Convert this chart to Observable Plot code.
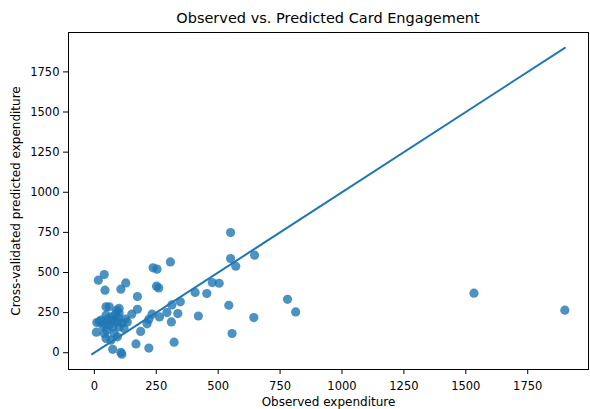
<!DOCTYPE html>
<html>
<head>
<meta charset="utf-8">
<script src="https://cdn.jsdelivr.net/npm/d3@7"></script>
<script src="https://cdn.jsdelivr.net/npm/@observablehq/plot@0.6"></script>
<style>
  body { margin: 0; background: #fff; }
  #wrap { position: relative; width: 590px; height: 409px; font-family: "DejaVu Sans", sans-serif; }
  #title { position: absolute; left: 68px; width: 520px; top: 10px; text-align: center; font-size: 14.5px; color: #000; }
</style>
</head>
<body>
<div id="wrap">
  <div id="title">Observed vs. Predicted Card Engagement</div>
</div>
<script>
const title = "Observed vs. Predicted Card Engagement";
const xLabel = "Observed expenditure";
const yLabel = "Cross-validated predicted expenditure";
const tickValues = [0, 250, 500, 750, 1000, 1250, 1500, 1750];

const observed = [
  16, 40, 43, 107, 127, 174, 237, 253, 307, 251, 260, 550, 550, 571, 476, 504, 407, 454, 647, 543,
  420, 644, 556, 780, 813, 1533, 1900, 347, 313, 337, 293, 311, 263, 233, 220, 213, 322, 220, 174, 151,
  187, 168, 74, 107, 111, 10, 8, 47, 60, 100, 100, 27, 47, 67, 80, 40, 60, 93, 113, 133,
  120, 100, 40, 47, 67, 80, 93, 55, 70, 85, 35, 50, 90, 20, 125, 75, 95
];
const predicted = [
  452, 487, 390, 396, 435, 350, 529, 521, 566, 415, 404, 749, 587, 539, 437, 433, 376, 369, 608, 296,
  229, 219, 120, 333, 254, 371, 265, 317, 298, 244, 250, 192, 223, 240, 208, 180, 66, 29, 271, 240,
  133, 55, 21, 2, -9, 188, 128, 286, 286, 276, 248, 203, 234, 223, 203, 182, 171, 192, 186, 192,
  151, 161, 120, 89, 78, 120, 99, 210, 195, 240, 165, 140, 265, 195, 210, 160, 220
];

const points = observed.map((o, i) => ({obs: o, pred: predicted[i]}));
const lo = Math.min(d3.min(observed), d3.min(predicted));
const hi = Math.max(d3.max(observed), d3.max(predicted));
const diag = [{v: lo}, {v: hi}];
const pad = (hi - lo) * 0.05;
const domain = [lo - pad, hi + pad];
const blue = "#1f77b4";
const fmt = d3.format("d");

const chart = Plot.plot({
  width: 590,
  height: 409,
  marginLeft: 68,
  marginRight: 2,
  marginTop: 32,
  marginBottom: 40,
  style: {fontFamily: "DejaVu Sans, sans-serif", fontSize: "11.5px", color: "#000", background: "#fff"},
  x: {domain, ticks: tickValues, label: null},
  y: {domain, ticks: tickValues, label: null},
  marks: [
    Plot.axisX({ticks: tickValues, tickFormat: fmt, tickSize: 5, tickPadding: 7, fontSize: 11.5, label: null}),
    Plot.axisY({ticks: tickValues, tickFormat: fmt, tickSize: 5, tickPadding: 4, fontSize: 11.5, label: null}),
    Plot.lineY(diag, {x: "v", y: "v", stroke: blue, strokeWidth: 2}),
    Plot.dot(points, {x: "obs", y: "pred", r: 4.6, fill: blue, fillOpacity: 0.8, stroke: "none"}),
    Plot.frame({stroke: "#000", strokeWidth: 1}),
    Plot.text([xLabel], {frameAnchor: "bottom", dy: 36, fontSize: 12, fill: "#000"}),
    Plot.text([yLabel], {frameAnchor: "left", textAnchor: "middle", dx: -52, rotate: -90, fontSize: 12, fill: "#000"})
  ]
});
document.getElementById("wrap").appendChild(chart);
</script>
</body>
</html>
